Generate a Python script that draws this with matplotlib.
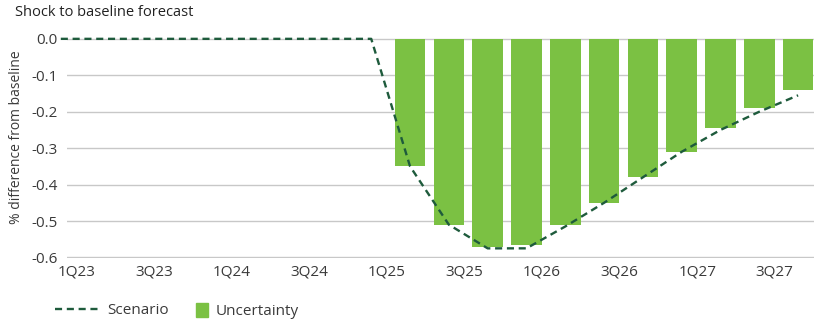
import numpy as np
import matplotlib
matplotlib.use("Agg")
import matplotlib.pyplot as plt
from matplotlib.lines import Line2D
from matplotlib.patches import Patch
from matplotlib import font_manager

# quarters 1Q23 .. 4Q27
QUARTERS = [f"{q}Q{y}" for y in range(23, 28) for q in range(1, 5)]

# scenario path (% difference from baseline), one value per quarter
SCENARIO = [0, 0, 0, 0, 0, 0, 0, 0, 0,
            -0.35, -0.51, -0.575, -0.575, -0.515, -0.45, -0.38, -0.31, -0.25, -0.20, -0.155]

# uncertainty bars, 2Q25 .. 4Q27
UNC_QUARTERS = QUARTERS[9:]
UNCERTAINTY = [-0.35, -0.51, -0.57, -0.565, -0.51, -0.45, -0.38, -0.31, -0.245, -0.19, -0.14]

TICK_LABELS = ["1Q23", "3Q23", "1Q24", "3Q24", "1Q25", "3Q25", "1Q26", "3Q26", "1Q27", "3Q27"]
Y_TICKS = [0.0, -0.1, -0.2, -0.3, -0.4, -0.5, -0.6]

GREEN = "#7BC143"
DARK = "#1E5B3C"
GRID = "#C8C8C8"
TXT = "#3a3a3a"

installed = {f.name for f in font_manager.fontManager.ttflist}
narrow = "Liberation Sans Narrow" if "Liberation Sans Narrow" in installed else "Open Sans"
plt.rcParams["font.family"] = ["Open Sans", "DejaVu Sans"]

fig = plt.figure(figsize=(8.24, 3.29), dpi=100)
ax = fig.add_axes([67 / 824, 1 - 258 / 329, (814 - 67) / 824, (258 - 38.3) / 329])

xi = np.arange(len(QUARTERS))
xb = np.array([QUARTERS.index(q) for q in UNC_QUARTERS])

ax.bar(xb, UNCERTAINTY, width=0.79, color=GREEN, zorder=2)
ax.plot(xi, SCENARIO, color=DARK, lw=1.7, dashes=(3, 2), zorder=3, clip_on=False)

ax.set_xlim(0.16, 19.41)
ax.set_ylim(-0.6015, 0.0015)
ax.set_yticks(Y_TICKS)
ax.set_yticklabels([f"{v:.1f}".replace("-0.0", "0.0") for v in Y_TICKS],
                   fontsize=11, color=TXT, family=narrow)
tick_pos = [QUARTERS.index(t) + 0.4 for t in TICK_LABELS]
ax.set_xticks(tick_pos)
ax.set_xticklabels(TICK_LABELS, fontsize=11, color=TXT, family=narrow)
ax.tick_params(axis="both", length=0)
ax.tick_params(axis="y", pad=7)
ax.tick_params(axis="x", pad=5)
for s in ax.spines.values():
    s.set_visible(False)
ax.grid(axis="y", color=GRID, lw=1)
ax.set_axisbelow(True)

fig.text(15 / 824, 1 - 13 / 329, "Shock to baseline forecast", fontsize=10.5,
         color="#222222", va="center", ha="left")
fig.text(17 / 824, 1 - 137 / 329, "% difference from baseline", fontsize=10,
         color=TXT, rotation=90, va="center", ha="center")

h1 = Line2D([], [], color=DARK, lw=1.7, dashes=(3, 2))
leg1 = fig.legend([h1], ["Scenario"], loc="center left", bbox_to_anchor=(55 / 824, 1 - 311 / 329),
                  frameon=False, borderpad=0, borderaxespad=0, handlelength=2.95,
                  handletextpad=0.5, prop={"family": narrow, "size": 11}, labelcolor=TXT)
h2 = Patch(color=GREEN)
leg2 = fig.legend([h2], ["Uncertainty"], loc="center left", bbox_to_anchor=(196 / 824, 1 - 311 / 329),
                  frameon=False, borderpad=0, borderaxespad=0, handlelength=0.8, handleheight=1.1,
                  handletextpad=0.5, prop={"family": narrow, "size": 11}, labelcolor=TXT)

fig.savefig("out.png", dpi=100)
